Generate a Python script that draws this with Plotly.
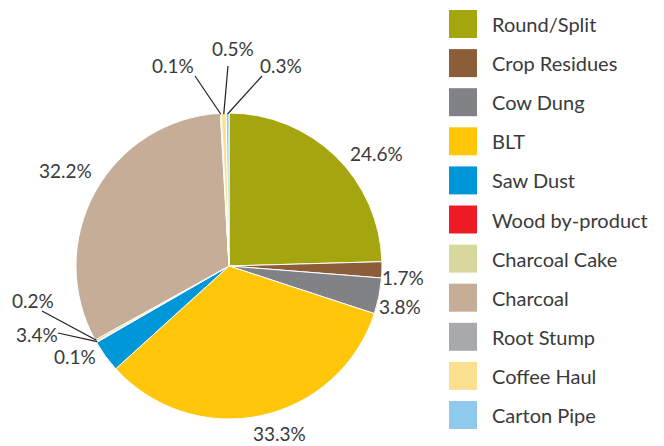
import math
import plotly.graph_objects as go

# Fuel types and their share (%)
categories = ["Round/Split", "Crop Residues", "Cow Dung", "BLT", "Saw Dust",
              "Wood by-product", "Charcoal Cake", "Charcoal", "Root Stump",
              "Coffee Haul", "Carton Pipe"]
shares = [24.6, 1.7, 3.8, 33.3, 3.4, 0.1, 0.2, 32.2, 0.1, 0.5, 0.3]
colors = ["#A5A60F", "#8B5D39", "#808285", "#FFC60A", "#0097D9", "#ED1C24",
          "#D8D89C", "#C6AD97", "#A7A9AC", "#FDE08F", "#8FC9EC"]

W, H = 664, 446
CX, CY, R = 229, 266, 153          # pie centre / radius in pixels
FONT = "Lato"
TXT = "#3a3a3a"

# label placement (pixel centres) and optional leader-line start points
label_pos = [(376, 153), (403, 277), (400, 306), (279, 433), (37, 334),
             (75, 356), (33, 300), (65, 170), (173, 66), (233, 49), (281, 66)]
leader_from = {4: (58, 333), 6: (42, 311), 8: (195, 76), 9: (228, 66), 10: (262, 76)}
leader_to_slice = {4: 5, 6: 6, 8: 8, 9: 9, 10: 10}


def px(x):
    return x / W


def py(y):
    return 1 - y / H


fig = go.Figure(go.Pie(
    labels=categories, values=shares, sort=False, direction="clockwise",
    rotation=0, marker=dict(colors=colors, line=dict(color="white", width=1)),
    textinfo="none", hoverinfo="label+percent", showlegend=False,
    domain=dict(x=[px(CX - R), px(CX + R)], y=[py(CY + R), py(CY - R)]),
))

total = sum(shares)
cum = 0
mid_angles = []
for v in shares:
    mid_angles.append((cum + v / 2) / total * 2 * math.pi)
    cum += v

annotations = []
shapes = []
for i, v in enumerate(shares):
    x, y = label_pos[i]
    annotations.append(dict(x=px(x), y=py(y), xref="paper", yref="paper",
                            xanchor="center", yanchor="middle",
                            text=f"{v}%", showarrow=False,
                            font=dict(family=FONT, size=19, color=TXT)))
    if i in leader_from:
        a = mid_angles[leader_to_slice[i]]
        tx = CX + (R - 1) * math.sin(a)
        ty = CY - (R - 1) * math.cos(a)
        fx, fy = leader_from[i]
        shapes.append(dict(type="line", xref="paper", yref="paper",
                           x0=px(fx), y0=py(fy), x1=px(tx), y1=py(ty),
                           line=dict(color="#231f20", width=1.2)))

# legend: square swatches with labels
for i, (name, c) in enumerate(zip(categories, colors)):
    yc = 24 + i * 39.1
    shapes.append(dict(type="rect", xref="paper", yref="paper",
                       x0=px(449), x1=px(477), y0=py(yc + 14), y1=py(yc - 14),
                       fillcolor=c, line=dict(width=0)))
    annotations.append(dict(x=px(490), y=py(yc), xref="paper", yref="paper",
                            text=name, showarrow=False,
                            xanchor="left", yanchor="middle",
                            font=dict(family=FONT, size=20, color=TXT)))

fig.update_layout(
    width=W, height=H, margin=dict(l=0, r=0, t=0, b=0),
    paper_bgcolor="white", plot_bgcolor="white",
    annotations=annotations, shapes=shapes,
)

fig.write_html("out.html")
